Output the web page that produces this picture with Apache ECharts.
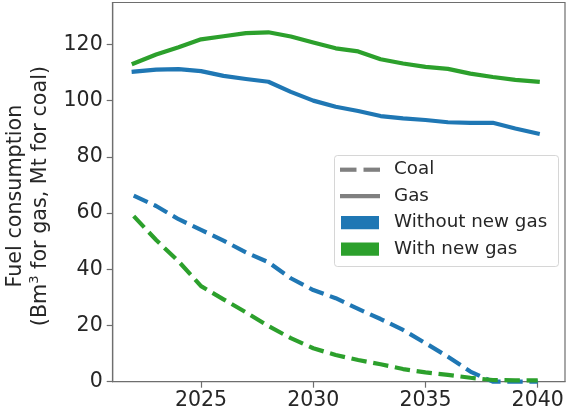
<!DOCTYPE html>
<html>
<head>
<meta charset="utf-8">
<script src="https://cdn.jsdelivr.net/npm/echarts@6/dist/echarts.min.js"></script>
<style>
  html, body { margin: 0; padding: 0; background: #fff; }
  #chart { width: 567px; height: 410px; }
</style>
</head>
<body>
<div id="chart"></div>
<script>
// Annual fuel consumption, 2022-2040
const years = [2022, 2023, 2024, 2025, 2026, 2027, 2028, 2029, 2030, 2031,
               2032, 2033, 2034, 2035, 2036, 2037, 2038, 2039, 2040];

// Gas (Bm3)
const gasWithoutNewGas = [110.3, 111.0, 111.2, 110.5, 108.8, 107.7, 106.7, 103.1, 100.0, 97.8,
                          96.3, 94.5, 93.7, 93.1, 92.3, 92.1, 92.1, 90.1, 88.3];
const gasWithNewGas = [113.2, 116.4, 119.0, 121.8, 122.9, 124.0, 124.3, 122.8, 120.7, 118.6,
                       117.5, 114.7, 113.2, 112.0, 111.3, 109.6, 108.4, 107.4, 106.7];

// Coal (Mt)
const coalWithoutNewGas = [66.2, 62.5, 57.8, 54.0, 50.2, 46.0, 42.5, 36.8, 32.6, 29.7,
                           25.9, 22.3, 18.4, 13.7, 8.9, 3.6, 0, 0, 0];
const coalWithNewGas = [58.9, 50.4, 42.8, 34.0, 29.3, 24.7, 19.8, 15.5, 11.9, 9.5,
                        7.7, 6.2, 4.5, 3.3, 2.4, 1.4, 0.6, 0.5, 0.5];

const xTicks = [2025, 2030, 2035, 2040];
const yTicks = [0, 20, 40, 60, 80, 100, 120];

const legendLabels = ['Coal', 'Gas', 'Without new gas', 'With new gas'];

const BLUE = '#1f77b4';
const GREEN = '#2ca02c';
const GREY = '#808080';
const TEXT = '#262626';
const SPINE = '#6e6e6e';
const FONT = '"DejaVu Sans", sans-serif';
const DASH = [15.4, 6.7];

const pairs = arr => years.map((y, i) => [y, arr[i]]);

function lineSeries(name, values, color, dashed) {
  return {
    name: name,
    type: 'line',
    data: pairs(values),
    symbol: 'none',
    smooth: false,
    silent: true,
    clip: false,
    lineStyle: {
      color: color,
      width: 4.2,
      type: dashed ? DASH : 'solid',
      cap: dashed ? 'butt' : 'square',
      join: 'round'
    },
    z: 3
  };
}

// Legend box drawn with graphic elements
const LX = 334, LY = 155, LW = 224, LH = 111;
const rowY = [169.7, 196.2, 222.7, 249.2];
const legendGraphics = [
  {
    type: 'rect', left: LX, top: LY, silent: true, z: 10,
    shape: { width: LW, height: LH, r: 3 },
    style: { fill: 'rgba(255,255,255,0.8)', stroke: 'rgba(204,204,204,0.8)', lineWidth: 1 }
  },
  // Coal: dashed grey
  { type: 'rect', x: 340, y: rowY[0] - 2.1, silent: true, z: 11,
    shape: { width: 16.5, height: 4.2 }, style: { fill: GREY } },
  { type: 'rect', x: 363.5, y: rowY[0] - 2.1, silent: true, z: 11,
    shape: { width: 16.5, height: 4.2 }, style: { fill: GREY } },
  // Gas: solid grey
  { type: 'rect', x: 340, y: rowY[1] - 2.1, silent: true, z: 11,
    shape: { width: 40, height: 4.2 }, style: { fill: GREY } },
  // Scenario patches
  { type: 'rect', x: 341, y: rowY[2] - 6.6, silent: true, z: 11,
    shape: { width: 38, height: 13.2 }, style: { fill: BLUE } },
  { type: 'rect', x: 341, y: rowY[3] - 6.6, silent: true, z: 11,
    shape: { width: 38, height: 13.2 }, style: { fill: GREEN } }
];
legendLabels.forEach((label, i) => {
  legendGraphics.push({
    type: 'text', x: 394, y: rowY[i], silent: true, z: 11,
    style: {
      text: label, fill: TEXT, font: '18.3px ' + FONT,
      textAlign: 'left', textVerticalAlign: 'middle'
    }
  });
});

const chart = echarts.init(document.getElementById('chart'), null, { renderer: 'canvas' });

chart.setOption({
  animation: false,
  backgroundColor: '#ffffff',
  grid: {
    left: 112.7, right: 2, top: 2.5, bottom: 28.3,
    outerBoundsMode: 'none',
    containLabel: false,
    show: true, borderColor: SPINE, borderWidth: 1.2, backgroundColor: 'transparent'
  },
  xAxis: {
    type: 'value',
    min: 2021.064,
    max: 2041.216,
    axisLine: { show: true, lineStyle: { color: SPINE, width: 1.2 } },
    axisTick: { show: true, length: 6, customValues: xTicks, lineStyle: { color: SPINE, width: 1.2 } },
    axisLabel: {
      customValues: xTicks, margin: 8, color: TEXT,
      fontFamily: FONT, fontSize: 20.5,
      formatter: v => String(Math.round(v))
    },
    splitLine: { show: false }
  },
  yAxis: {
    type: 'value',
    min: 0,
    max: 134.9,
    axisLine: { show: true, lineStyle: { color: SPINE, width: 1.2 } },
    axisTick: { show: true, length: 6, customValues: yTicks, lineStyle: { color: SPINE, width: 1.2 } },
    axisLabel: {
      customValues: yTicks, margin: 10, color: TEXT,
      fontFamily: FONT, fontSize: 20.5
    },
    splitLine: { show: false },
    name: 'Fuel consumption\n(Bm{sup|3} for gas, Mt for coal)',
    nameLocation: 'middle',
    nameRotate: 90,
    nameGap: 60,
    nameTextStyle: {
      color: TEXT, fontFamily: FONT, fontSize: 20.7, lineHeight: 24.8,
      align: 'center',
      padding: [0, 8, 0, 0],
      rich: {
        sup: { fontSize: 13, fontFamily: FONT, color: TEXT, verticalAlign: 'top', lineHeight: 24.8, padding: [0, 0, 9, 0] }
      }
    }
  },
  series: [
    lineSeries('Without new gas (coal)', coalWithoutNewGas, BLUE, true),
    lineSeries('Without new gas (gas)', gasWithoutNewGas, BLUE, false),
    lineSeries('With new gas (coal)', coalWithNewGas, GREEN, true),
    lineSeries('With new gas (gas)', gasWithNewGas, GREEN, false)
  ],
  graphic: legendGraphics
});
</script>
</body>
</html>
